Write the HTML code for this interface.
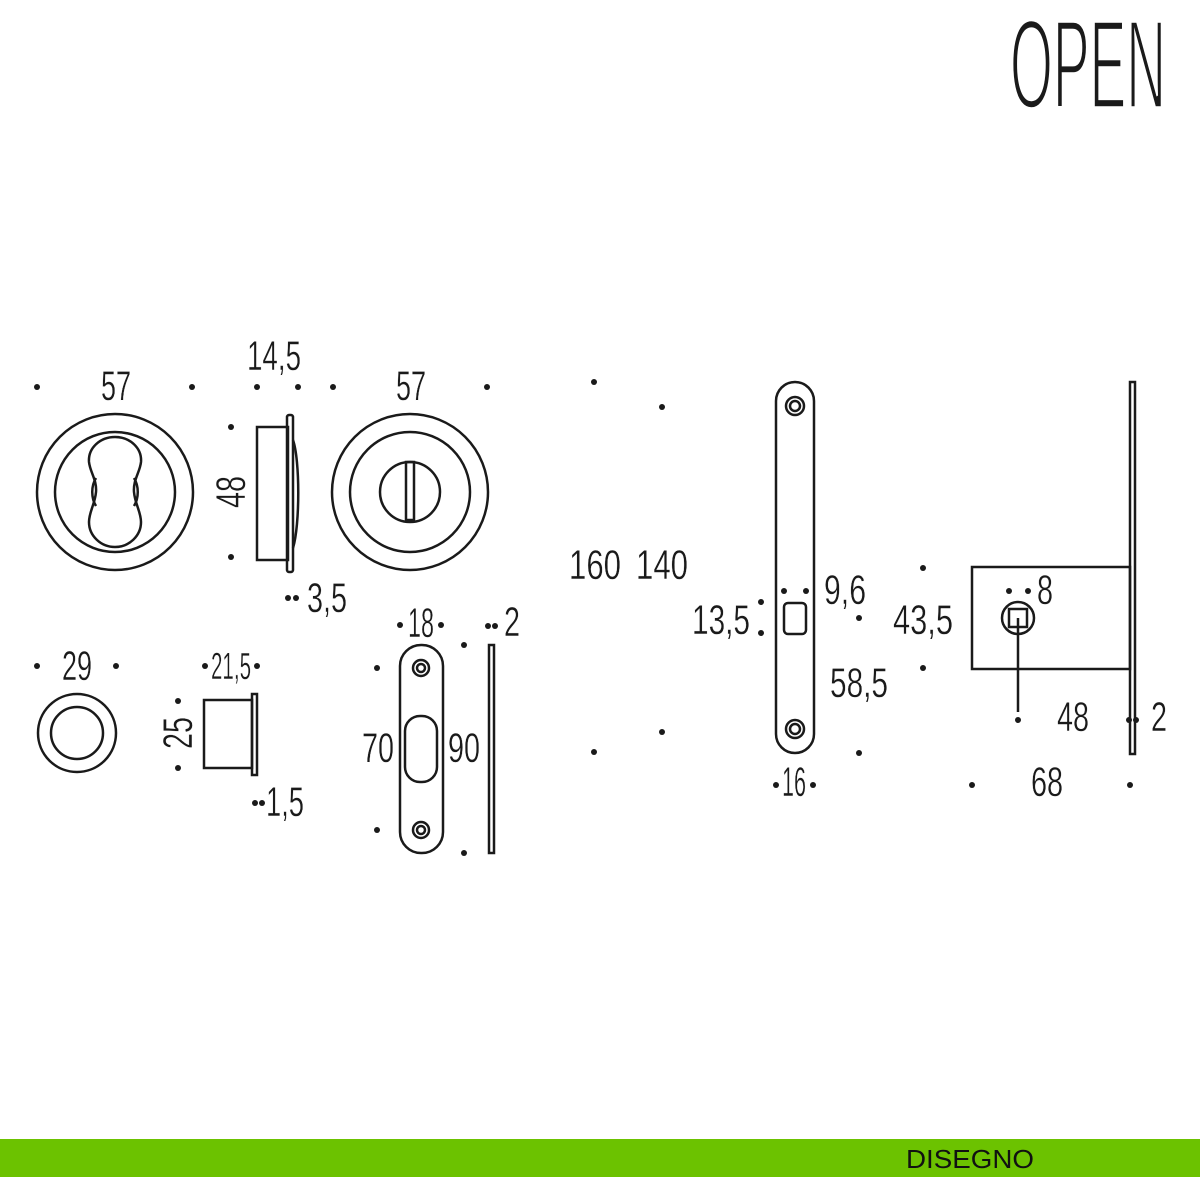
<!DOCTYPE html>
<html><head><meta charset="utf-8"><style>html,body{margin:0;padding:0;background:#fff;}svg{display:block}</style></head><body>
<svg width="1200" height="1200" viewBox="0 0 1200 1200" xmlns="http://www.w3.org/2000/svg">
<rect width="1200" height="1200" fill="#fff"/>
<text x="1010" y="108" font-family="Liberation Sans, sans-serif" font-size="126" textLength="156" lengthAdjust="spacingAndGlyphs" fill="#1a1a1a" stroke="#fff" stroke-width="3.5">OPEN</text>
<g fill="none" stroke="#1a1a1a" stroke-width="2.5">
<circle cx="115" cy="492" r="78"/><circle cx="115" cy="492" r="60"/>
<path d="M115,437 C100,437 88,448 89,462 C90,472 97,480 96,492 C95,504 89,512 89,522 C89,536 101,547 115,547 C129,547 141,536 141,522 C141,512 135,504 134,492 C133,480 140,472 141,462 C142,448 130,437 115,437 Z"/>
<path d="M96,478 C91,486 91,498 96,506 M134,478 C139,486 139,498 134,506"/>
<rect x="257" y="427" width="31" height="133"/>
<rect x="287" y="415" width="6" height="157" rx="2"/>
<path d="M293,440 C300,460 300,525 293,548"/>
<circle cx="410" cy="492" r="78"/><circle cx="410" cy="492" r="60"/><circle cx="410" cy="492" r="30"/>
<rect x="406" y="462" width="8" height="58"/>
<circle cx="77" cy="733" r="39"/><circle cx="77" cy="733" r="26"/>
<rect x="204" y="700" width="48" height="68"/>
<rect x="252" y="694" width="5" height="81"/>
<rect x="400" y="645" width="43" height="208" rx="21"/>
<circle cx="421" cy="668" r="8"/><circle cx="421" cy="668" r="4"/>
<circle cx="421" cy="830" r="8"/><circle cx="421" cy="830" r="4"/>
<rect x="405" y="716" width="32" height="66" rx="15"/>
<rect x="489" y="645" width="5" height="208"/>
<rect x="776" y="382" width="38" height="371" rx="19"/>
<circle cx="795" cy="406" r="9"/><circle cx="795" cy="406" r="5"/>
<circle cx="795" cy="729" r="9"/><circle cx="795" cy="729" r="5"/>
<rect x="784" y="603" width="22" height="31" rx="4"/>
<rect x="972" y="567" width="158" height="102"/>
<rect x="1130" y="382" width="5" height="372"/>
<circle cx="1018" cy="618" r="16"/>
<rect x="1009" y="609" width="18" height="18"/>
<line x1="1018" y1="618" x2="1018" y2="712"/>
</g>
<g fill="#1a1a1a">
<circle cx="37" cy="387" r="3"/><circle cx="192" cy="387" r="3"/><circle cx="257" cy="387" r="3"/><circle cx="298" cy="387" r="3"/><circle cx="333" cy="387" r="3"/><circle cx="487" cy="387" r="3"/>
<circle cx="231" cy="427" r="3"/><circle cx="231" cy="557" r="3"/><circle cx="288" cy="598" r="3"/><circle cx="296" cy="598" r="3"/>
<circle cx="594" cy="382" r="3"/><circle cx="662" cy="407" r="3"/><circle cx="594" cy="752" r="3"/><circle cx="662" cy="732" r="3"/>
<circle cx="37" cy="666" r="3"/><circle cx="116" cy="666" r="3"/><circle cx="205" cy="666" r="3"/><circle cx="257" cy="666" r="3"/>
<circle cx="178" cy="701" r="3"/><circle cx="178" cy="768" r="3"/><circle cx="255" cy="803" r="3"/><circle cx="262" cy="803" r="3"/>
<circle cx="377" cy="668" r="3"/><circle cx="377" cy="830" r="3"/><circle cx="400" cy="625" r="3"/><circle cx="441" cy="625" r="3"/>
<circle cx="464" cy="645" r="3"/><circle cx="464" cy="853" r="3"/><circle cx="488" cy="626" r="3"/><circle cx="495" cy="626" r="3"/>
<circle cx="761" cy="602" r="3"/><circle cx="761" cy="633" r="3"/><circle cx="784" cy="591" r="3"/><circle cx="806" cy="591" r="3"/>
<circle cx="859" cy="618" r="3"/><circle cx="859" cy="753" r="3"/><circle cx="776" cy="785" r="3"/><circle cx="813" cy="785" r="3"/>
<circle cx="923" cy="568" r="3"/><circle cx="923" cy="668" r="3"/><circle cx="1009" cy="591" r="3"/><circle cx="1028" cy="591" r="3"/>
<circle cx="1018" cy="720" r="3"/><circle cx="972" cy="785" r="3"/><circle cx="1130" cy="785" r="3"/>
<circle cx="1129" cy="720" r="3"/><circle cx="1136" cy="720" r="3"/>
</g>
<g font-family="Liberation Sans, sans-serif" font-size="42" fill="#1a1a1a" stroke="#fff" stroke-width="0.4">
<text x="101" y="400" textLength="30" lengthAdjust="spacingAndGlyphs">57</text>
<text x="247" y="370" textLength="54" lengthAdjust="spacingAndGlyphs">14,5</text>
<text x="396" y="400" textLength="30" lengthAdjust="spacingAndGlyphs">57</text>
<text transform="translate(245,492) rotate(-90)" x="-16" y="0" textLength="32" lengthAdjust="spacingAndGlyphs">48</text>
<text x="307" y="612" textLength="40" lengthAdjust="spacingAndGlyphs">3,5</text>
<text x="569" y="579" textLength="52" lengthAdjust="spacingAndGlyphs">160</text>
<text x="636" y="579" textLength="52" lengthAdjust="spacingAndGlyphs">140</text>
<text x="692" y="634" textLength="58" lengthAdjust="spacingAndGlyphs">13,5</text>
<text x="824" y="604" textLength="42" lengthAdjust="spacingAndGlyphs">9,6</text>
<text x="830" y="697" textLength="58" lengthAdjust="spacingAndGlyphs">58,5</text>
<text x="893" y="634" textLength="60" lengthAdjust="spacingAndGlyphs">43,5</text>
<text x="1037" y="604" textLength="16" lengthAdjust="spacingAndGlyphs">8</text>
<text x="1057" y="731" textLength="32" lengthAdjust="spacingAndGlyphs">48</text>
<text x="1151" y="731" textLength="16" lengthAdjust="spacingAndGlyphs">2</text>
<text x="782" y="796" textLength="24" lengthAdjust="spacingAndGlyphs">16</text>
<text x="1031" y="796" textLength="32" lengthAdjust="spacingAndGlyphs">68</text>
<text x="62" y="680" textLength="30" lengthAdjust="spacingAndGlyphs">29</text>
<text x="211" y="679" textLength="40" font-size="38" lengthAdjust="spacingAndGlyphs">21,5</text>
<text transform="translate(192,733) rotate(-90)" x="-16" y="0" textLength="32" lengthAdjust="spacingAndGlyphs">25</text>
<text x="266" y="816" textLength="38" lengthAdjust="spacingAndGlyphs">1,5</text>
<text x="408" y="637" textLength="26" lengthAdjust="spacingAndGlyphs">18</text>
<text x="504" y="636" textLength="16" lengthAdjust="spacingAndGlyphs">2</text>
<text x="362" y="762" textLength="32" lengthAdjust="spacingAndGlyphs">70</text>
<text x="448" y="762" textLength="32" lengthAdjust="spacingAndGlyphs">90</text>
</g>
<rect x="0" y="1139" width="1200" height="38" fill="#6cc200"/>
<text x="906" y="1168" font-family="Liberation Sans, sans-serif" font-size="26" textLength="128" lengthAdjust="spacingAndGlyphs" fill="#111">DISEGNO</text>
</svg>
</body></html>
